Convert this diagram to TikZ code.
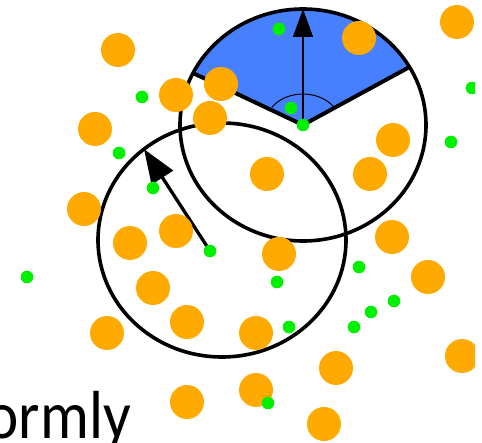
\documentclass[tikz,border=0pt]{standalone}
\usepackage{fontspec}
\setmainfont{Carlito}
\usepackage{tikz}
\usetikzlibrary{arrows.meta}
\usepackage{xcolor}
\definecolor{coneblue}{RGB}{70,128,255}
\definecolor{dotorange}{RGB}{255,170,0}
\definecolor{dotgreen}{RGB}{0,240,0}

\begin{document}
\begin{tikzpicture}[x=1pt, y=1pt,
    rim/.style={draw=black, line width=3.6pt},
    orangedot/.style={fill=dotorange},
    greendot/.style={fill=dotgreen}]
    \useasboundingbox (0,0) rectangle (482,442);
    \coordinate (upper) at (303,317);
    \coordinate (lower) at (222,202);
    \coordinate (lowerstart) at (210,191);
    \coordinate (uppertip) at ([shift={(90:123pt and 116pt)}]upper);
    \coordinate (lowertip) at ([shift={(129:124pt and 117pt)}]lower);
    \coordinate (coneright) at ([shift={(30:123pt and 116pt)}]upper);
    \coordinate (coneleft) at ([shift={(153.4:123pt and 116pt)}]upper);
    % cone of the upper circle
    \fill[coneblue] (upper) -- (coneright)
      arc[start angle=30, end angle=153.4, x radius=123pt, y radius=116pt] -- cycle;
    \draw[rim] (upper) ellipse [x radius=123pt, y radius=116pt];
    \draw[rim] (lower) ellipse [x radius=124pt, y radius=117pt];
    \draw[line width=4pt] (coneright) -- (upper) -- (coneleft);
    \draw[line width=1pt] ([shift={(35:38pt and 31pt)}]upper)
      arc[start angle=35, end angle=145, x radius=38pt, y radius=31pt];
    \draw[line width=1.3pt, -{Triangle[length=28pt, width=20pt]}] (upper) -- (uppertip);
    \draw[line width=3.3pt, -{Triangle[length=34pt, width=25pt]}] (lowerstart) -- (lowertip);
    % dots
    \begin{scope}
      \clip (0,0) rectangle (475,442);
      \foreach \px/\py in {118/392, 457/420, 359/404, 176/347, 221/358, 210/324,
          95/313, 267/268, 393/302, 370/268, 84/233, 130/199, 176/211, 279/188,
          392/205, 428/165, 153/154, 187/120, 256/109, 107/109, 336/74, 462/86,
          256/52, 187/40, 324/18}
        \fill[orangedot] (\px,\py) circle (17pt);
      \foreach \px/\py in {279/413, 291/334, 303/317, 142/345, 472/354, 119/289,
          451/300, 153/254, 210/191, 27/165, 359/175, 277/160, 394/141, 371/130,
          354/115, 289/115, 268/39}
        \fill[greendot] (\px,\py) circle (6.3pt);
    \end{scope}
    \node[anchor=base west, inner sep=0pt] (caption) at (-13.5,4)
      {\scalebox{0.9}[1]{\fontsize{68}{68}\selectfont ormly}};
\end{tikzpicture}
\end{document}
